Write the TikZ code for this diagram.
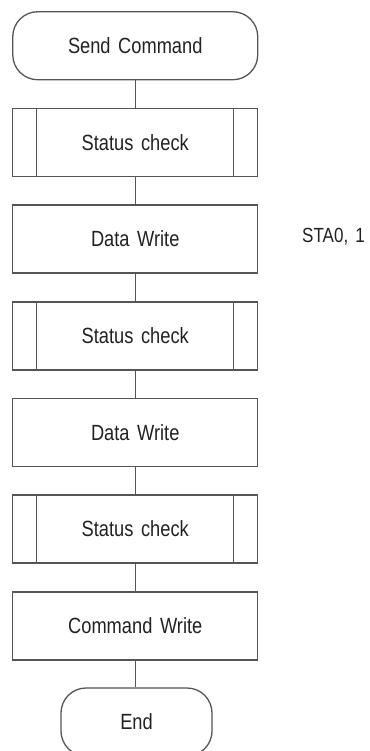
\documentclass[tikz,border=0pt]{standalone}
\usepackage{fontspec}
\setmainfont[FakeStretch=0.83,WordSpace=1.5]{Liberation Sans}
\definecolor{linegray}{HTML}{555555}
\definecolor{txt}{HTML}{222222}
\begin{document}
\begin{tikzpicture}[x=1pt,y=-1pt,
  line/.style={draw=linegray, line width=1.3pt},
  box/.style={line, rectangle, minimum width=245pt, minimum height=68pt,
    font=\fontsize{22}{26}\selectfont, text=txt, inner sep=0pt},
  term/.style={box, rounded corners=25pt},
  subproc/.style={box},
  lbl/.style={font=\fontsize{20.5}{24}\selectfont, text=txt, inner sep=0pt}
]
\useasboundingbox (0,0) rectangle (369,751);
\node[term]    (start) at (135.25,45.75) {Send Command};
\node[subproc] (sc1)   at (135.25,142.5) {Status check};
\node[box]     (dw1)   at (135.25,239)   {Data Write};
\node[subproc] (sc2)   at (135.25,336)   {Status check};
\node[box]     (dw2)   at (135.25,432.5) {Data Write};
\node[subproc] (sc3)   at (135.25,529)   {Status check};
\node[box]     (cw)    at (135.25,626)   {Command Write};
\node[term, minimum width=151pt] (end) at (136.5,722) {End};
\node[lbl, anchor=west] (sta) at (302,237) {STA0, 1};
\foreach \n in {sc1,sc2,sc3}{
  \draw[line] ([xshift=24.5pt]\n.north west) -- ([xshift=24.5pt]\n.south west);
  \draw[line] ([xshift=-25pt]\n.north east) -- ([xshift=-25pt]\n.south east);
}
\draw[line] (start) -- (sc1);
\draw[line] (sc1) -- (dw1);
\draw[line] (dw1) -- (sc2);
\draw[line] (sc2) -- (dw2);
\draw[line] (dw2) -- (sc3);
\draw[line] (sc3) -- (cw);
\draw[line] (cw.south) -- (cw.south |- end.north);
\end{tikzpicture}
\end{document}
